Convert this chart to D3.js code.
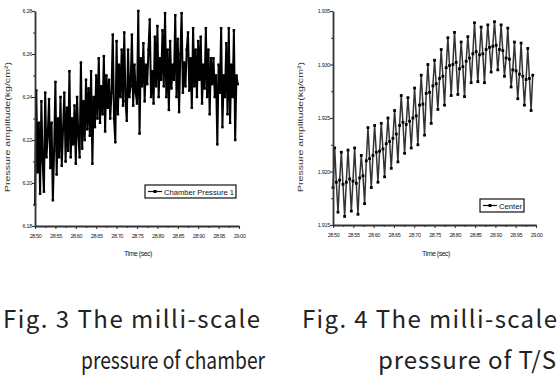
<!DOCTYPE html>
<html lang="en">

<head>
    <meta charset="utf-8">
    <script src="https://d3js.org/d3.v7.min.js"></script>
    <style>
        body { margin: 0; background: #fff; }
        svg { display: block; }
    </style>
</head>

<body>
    <svg id="fig" width="559" height="375"></svg>

    <script>
        // --- data ---
        const xTicks = [28.50, 28.55, 28.60, 28.65, 28.70, 28.75, 28.80, 28.85, 28.90, 28.95, 29.00];
        const xMinorTicks = [28.525, 28.575, 28.625, 28.675, 28.725, 28.775, 28.825, 28.875, 28.925, 28.975];
        const chamberTicks = [6.18, 6.20, 6.22, 6.24, 6.26, 6.28];
        const chamberMinor = [6.19, 6.21, 6.23, 6.25, 6.27];
        const centerTicks = [1.915, 1.920, 1.925, 1.930, 1.935];
        const centerMinor = [1.9175, 1.9225, 1.9275, 1.9325];

        // sampling grid of each record (start time, time step)
        const chamberStart = 28.5, chamberStep = 0.003125;
        const centerStart = 28.5, centerStep = 0.0041;

        // Fig. 3 : chamber pressure 1
        const chamberValues = [
            6.190, 6.243, 6.205, 6.228, 6.195, 6.238, 6.210, 6.196, 6.242, 6.212,
            6.222, 6.239, 6.207, 6.228, 6.192, 6.215, 6.247, 6.204, 6.230, 6.212,
            6.240, 6.208, 6.225, 6.242, 6.210, 6.235, 6.215, 6.252, 6.212, 6.230,
            6.218, 6.236, 6.209, 6.240, 6.222, 6.212, 6.256, 6.216, 6.238, 6.220,
            6.248, 6.225, 6.244, 6.222, 6.252, 6.209, 6.240, 6.226, 6.250, 6.230,
            6.258, 6.228, 6.245, 6.232, 6.259, 6.224, 6.250, 6.235, 6.248, 6.230,
            6.242, 6.269, 6.230, 6.219, 6.266, 6.232, 6.255, 6.240, 6.262, 6.236,
            6.270, 6.238, 6.229, 6.262, 6.240, 6.245, 6.269, 6.236, 6.255, 6.242,
            6.237, 6.280, 6.223, 6.258, 6.245, 6.265, 6.238, 6.255, 6.246, 6.262,
            6.276, 6.240, 6.252, 6.237, 6.268, 6.245, 6.273, 6.240, 6.258, 6.248,
            6.271, 6.245, 6.279, 6.240, 6.262, 6.234, 6.266, 6.244, 6.255, 6.248,
            6.278, 6.240, 6.267, 6.233, 6.260, 6.279, 6.242, 6.256, 6.245, 6.262,
            6.270, 6.243, 6.258, 6.235, 6.272, 6.245, 6.262, 6.240, 6.266, 6.248,
            6.268, 6.237, 6.255, 6.244, 6.272, 6.240, 6.262, 6.232, 6.258, 6.246,
            6.258, 6.240, 6.250, 6.218, 6.255, 6.242, 6.272, 6.226, 6.250, 6.240,
            6.265, 6.232, 6.272, 6.228, 6.255, 6.240, 6.271, 6.220, 6.250, 6.246
        ];

        // Fig. 4 : center (T/S) pressure
        const centerValues = [
            1.9185, 1.9222, 1.9190, 1.9162, 1.9192, 1.9218, 1.9188, 1.9158,
            1.9190, 1.9220, 1.9193, 1.9163, 1.9191, 1.9222, 1.9189, 1.9160,
            1.9194, 1.9215, 1.9196, 1.9170, 1.9210, 1.9241, 1.9212, 1.9185,
            1.9215, 1.9243, 1.9218, 1.9190, 1.9219, 1.9245, 1.9221, 1.9195,
            1.9226, 1.9250, 1.9228, 1.9203, 1.9231, 1.9257, 1.9235, 1.9209,
            1.9243, 1.9271, 1.9246, 1.9217, 1.9244, 1.9269, 1.9247, 1.9222,
            1.9250, 1.9278, 1.9252, 1.9225, 1.9262, 1.9290, 1.9263, 1.9234,
            1.9273, 1.9300, 1.9274, 1.9245, 1.9280, 1.9304, 1.9282, 1.9258,
            1.9287, 1.9314, 1.9289, 1.9262, 1.9297, 1.9325, 1.9299, 1.9271,
            1.9300, 1.9330, 1.9302, 1.9272, 1.9296, 1.9321, 1.9298, 1.9270,
            1.9303, 1.9326, 1.9306, 1.9283, 1.9310, 1.9339, 1.9312, 1.9284,
            1.9309, 1.9335, 1.9310, 1.9283, 1.9314, 1.9337, 1.9316, 1.9293,
            1.9317, 1.9340, 1.9318, 1.9295, 1.9314, 1.9337, 1.9313, 1.9289,
            1.9306, 1.9334, 1.9305, 1.9279, 1.9295, 1.9321, 1.9294, 1.9268,
            1.9291, 1.9320, 1.9289, 1.9262, 1.9286, 1.9315, 1.9287, 1.9257,
            1.9290
        ];

        const svg = d3.select("#fig");
        const tickFont = "'Liberation Sans', Arial, sans-serif";

        // draws one small plot panel
        function drawPanel(opt) {
            const x = d3.scaleLinear().domain([28.5, 29.0]).range(opt.xRange);
            const y = d3.scaleLinear().domain(opt.yDomain).range(opt.yRange);
            const g = svg.append("g");

            const pts = opt.values.map((v, i) => [opt.start + i * opt.step, v]);

            // data line
            g.append("path")
                .datum(pts)
                .attr("fill", "none")
                .attr("stroke", opt.lineColor)
                .attr("stroke-width", opt.lineWidth)
                .attr("stroke-linejoin", "round")
                .attr("d", d3.line().x(d => x(d[0])).y(d => y(d[1])));

            // square markers
            const ms = opt.markSize;
            g.selectAll("rect.mk").data(pts).enter()
                .append("rect")
                .attr("class", "mk")
                .attr("x", d => x(d[0]) - ms / 2)
                .attr("y", d => y(d[1]) - ms / 2)
                .attr("width", ms)
                .attr("height", ms)
                .attr("fill", "#000");

            // y axis
            const yAx = g.append("g")
                .attr("transform", "translate(" + opt.xRange[0] + ",0)")
                .call(d3.axisLeft(y).tickValues(opt.yTicks).tickSize(3).tickSizeOuter(0)
                    .tickFormat(opt.yFormat));
            g.append("g")
                .attr("transform", "translate(" + opt.xRange[0] + ",0)")
                .call(d3.axisLeft(y).tickValues(opt.yMinor).tickSize(2).tickSizeOuter(0).tickFormat(""))
                .select(".domain").remove();

            // x axis
            const xAx = g.append("g")
                .attr("transform", "translate(0," + opt.yRange[0] + ")")
                .call(d3.axisBottom(x).tickValues(xTicks).tickSize(3).tickSizeOuter(0)
                    .tickFormat(d3.format(".2f")));
            g.append("g")
                .attr("transform", "translate(0," + opt.yRange[0] + ")")
                .call(d3.axisBottom(x).tickValues(xMinorTicks).tickSize(2).tickSizeOuter(0).tickFormat(""))
                .select(".domain").remove();

            g.selectAll(".domain").attr("stroke", "#333").attr("stroke-width", 1.8);
            g.selectAll(".tick line").attr("stroke", "#333").attr("stroke-width", 1.1);
            yAx.selectAll("text")
                .attr("x", -3)
                .style("font-family", tickFont)
                .style("font-size", "5.5px")
                .style("letter-spacing", "-0.3px")
                .attr("fill", "#222");
            xAx.selectAll("text")
                .attr("y", 8)
                .style("font-family", tickFont)
                .style("font-size", "5.5px")
                .style("letter-spacing", "-0.4px")
                .attr("fill", "#222");

            // axis titles
            g.append("text")
                .attr("x", opt.xTitleX)
                .attr("y", 256)
                .attr("text-anchor", "middle")
                .style("font-family", tickFont)
                .style("font-size", "7px")
                .style("letter-spacing", "-0.5px")
                .attr("fill", "#222")
                .text("Time (sec)");
            g.append("text")
                .attr("transform", "translate(" + opt.yTitleX + ",127) rotate(-90)")
                .attr("text-anchor", "middle")
                .style("font-family", tickFont)
                .style("font-size", "7.5px")
                .attr("fill", "#333")
                .attr("textLength", 130)
                .attr("lengthAdjust", "spacingAndGlyphs")
                .text("Pressure amplitude(kg/cm²)");

            // legend
            const lg = g.append("g").attr("transform", "translate(" + opt.legend[0] + "," + opt.legend[1] + ")");
            lg.append("rect")
                .attr("width", opt.legend[2])
                .attr("height", 13)
                .attr("fill", "#fff")
                .attr("stroke", "#111")
                .attr("stroke-width", 1.2);
            lg.append("line")
                .attr("x1", 3).attr("x2", 17)
                .attr("y1", 6.5).attr("y2", 6.5)
                .attr("stroke", "#111").attr("stroke-width", 1.2);
            lg.append("rect")
                .attr("x", 8.5).attr("y", 5)
                .attr("width", 3).attr("height", 3)
                .attr("fill", "#000");
            lg.append("text")
                .attr("x", 19)
                .attr("y", 9.8)
                .style("font-family", tickFont)
                .style("font-size", "8px")
                .attr("textLength", opt.legend[2] - 21)
                .attr("lengthAdjust", "spacingAndGlyphs")
                .attr("fill", "#111")
                .text(opt.name);
        }

        drawPanel({
            values: chamberValues, start: chamberStart, step: chamberStep,
            xRange: [35, 239], yDomain: [6.18, 6.28], yRange: [226, 11],
            yTicks: chamberTicks, yMinor: chamberMinor, yFormat: d3.format(".2f"),
            lineColor: "#000", lineWidth: 2, markSize: 2.5,
            xTitleX: 138, yTitleX: 10,
            legend: [145, 185, 91], name: "Chamber Pressure 1"
        });

        drawPanel({
            values: centerValues, start: centerStart, step: centerStep,
            xRange: [333, 536], yDomain: [1.915, 1.935], yRange: [225, 11],
            yTicks: centerTicks, yMinor: centerMinor, yFormat: d3.format(".3f"),
            lineColor: "#333", lineWidth: 1.5, markSize: 2.8,
            xTitleX: 436, yTitleX: 303,
            legend: [480, 199, 44], name: "Center"
        });

        // captions
        const capFont = "'Noto Sans CJK KR', 'DejaVu Sans', sans-serif";
        const captions = [
            { text: "Fig. 3 The milli-scale", x: 3, y: 328, len: 257, adj: "spacing" },
            { text: "pressure of chamber", x: 81, y: 369, len: 184, adj: "spacingAndGlyphs" },
            { text: "Fig. 4 The milli-scale", x: 302, y: 328, len: 255, adj: "spacing" },
            { text: "pressure of T/S", x: 378, y: 369, len: 178, adj: "spacing" }
        ];
        svg.selectAll("text.cap").data(captions).enter()
            .append("text")
            .attr("class", "cap")
            .attr("x", d => d.x)
            .attr("y", d => d.y)
            .attr("textLength", d => d.len)
            .attr("lengthAdjust", d => d.adj)
            .style("font-family", capFont)
            .style("font-size", "24px")
            .attr("fill", "#222")
            .text(d => d.text);
    </script>
</body>

</html>
